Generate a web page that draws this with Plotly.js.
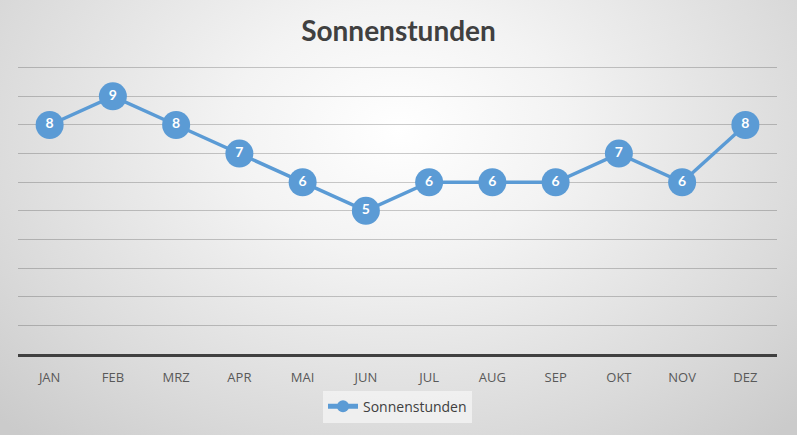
<!DOCTYPE html>
<html>
<head>
<meta charset="utf-8">
<script src="https://cdn.plot.ly/plotly-3.0.1.min.js"></script>
<style>
html,body{margin:0;padding:0;}
#chart{width:797px;height:435px;background:radial-gradient(ellipse 70% 95% at 50% 30%, #ffffff 0%, #f3f3f3 30%, #dadada 75%, #cbcbcb 100%);}
</style>
</head>
<body>
<div id="chart"></div>
<script>
const months = ["JAN","FEB","MRZ","APR","MAI","JUN","JUL","AUG","SEP","OKT","NOV","DEZ"];
const sunHours = [8,9,8,7,6,5,6,6,6,7,6,8];
const seriesName = "Sonnenstunden";

const trace = {
  x: months,
  y: sunHours,
  name: seriesName,
  type: "scatter",
  mode: "lines+markers+text",
  text: sunHours.map(String),
  textposition: "middle center",
  textfont: {family: "Lato, 'Open Sans', sans-serif", size: 14, color: "#ffffff", weight: "bold"},
  line: {color: "#5b9bd5", width: 3.5},
  marker: {color: "#5b9bd5", size: 28, line: {width: 0}},
  cliponaxis: false,
  hoverinfo: "none"
};

const layout = {
  width: 797, height: 435,
  margin: {l: 18, r: 20, t: 62, b: 79},
  paper_bgcolor: "rgba(0,0,0,0)",
  plot_bgcolor: "rgba(0,0,0,0)",
  title: {text: "<b>Sonnenstunden</b>", x: 0.5, xanchor: "center", y: 0.928, yanchor: "middle",
          font: {family: "Lato, 'Open Sans', sans-serif", size: 28, color: "#404040"}},
  xaxis: {type: "category", range: [-0.5, 11.5], showgrid: false, showline: true, linecolor: "#404040", linewidth: 3,
          ticks: "", ticklabelstandoff: 9, zeroline: false,
          tickfont: {family: "'Open Sans', Lato, sans-serif", size: 13, color: "#595959"}},
  yaxis: {range: [0, 10.2], tickvals: [1,2,3,4,5,6,7,8,9,10], showticklabels: false, showgrid: true,
          gridcolor: "rgba(0,0,0,0.2)", gridwidth: 1, zeroline: false, showline: false, fixedrange: true},
  showlegend: true,
  legend: {orientation: "h", x: 0.5, xanchor: "center", y: -0.18, yanchor: "middle",
           bgcolor: "rgba(242,242,242,0.85)", borderwidth: 0,
           font: {family: "'Open Sans', Lato, sans-serif", size: 14, color: "#404040"},
           itemsizing: "constant"}
};

Plotly.newPlot("chart", [trace], layout, {displayModeBar: false, staticPlot: true});
</script>
</body>
</html>
